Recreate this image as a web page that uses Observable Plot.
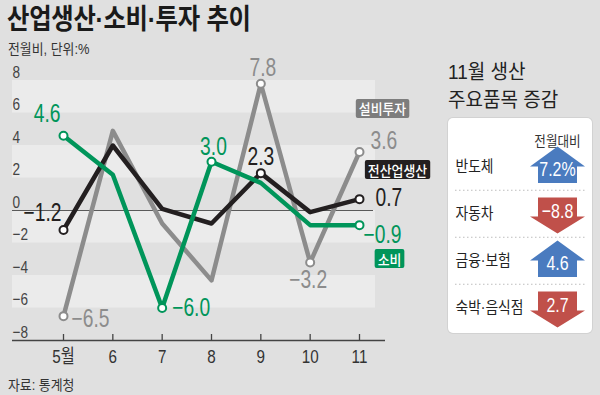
<!DOCTYPE html>
<html><head><meta charset="utf-8">
<script src="https://cdn.jsdelivr.net/npm/d3@7"></script>
<script src="https://cdn.jsdelivr.net/npm/@observablehq/plot@0.6"></script>
<style>
html,body{margin:0;padding:0;background:#e0e0e0;}
#wrap{position:relative;width:600px;height:395px;overflow:hidden;background:#e0e0e0;font-family:"Liberation Sans","Noto Sans CJK KR",sans-serif;color:#222;}
#main{position:absolute;left:0;top:0;}
#title{position:absolute;left:7px;top:0px;font-size:28px;font-weight:700;line-height:40px;letter-spacing:-0.3px;transform:scaleX(0.87);transform-origin:0 0;white-space:nowrap;color:#1a1a1a;}
#subtitle{position:absolute;left:8px;top:39px;font-size:14px;line-height:20px;color:#333;transform:scaleX(0.92);transform-origin:0 0;white-space:nowrap;}
#source{position:absolute;left:8px;top:375px;font-size:14px;line-height:20px;color:#333;transform:scaleX(0.92);transform-origin:0 0;white-space:nowrap;}
#ptitle{position:absolute;left:448px;top:58px;font-size:20px;line-height:28px;color:#222;transform:scaleX(0.95);transform-origin:0 0;white-space:nowrap;}
#panelbox{position:absolute;left:448px;top:118px;width:144px;height:215px;background:#fff;border-radius:5px;box-shadow:0 0 0 1px #d2d2d2;}
#panel{position:absolute;left:448px;top:118px;}
</style></head>
<body><div id="wrap">
<div id="main"></div>
<div id="title">산업생산·소비·투자 추이</div>
<div id="subtitle">전월비, 단위:%</div>
<div id="source">자료: 통계청</div>
<div id="ptitle">11월 생산<br>주요품목 증감</div>
<div id="panelbox"></div>
<div id="panel"></div>
</div>
<script>
// ---- data ----
const months = [5, 6, 7, 8, 9, 10, 11];
const monthLabels = ["5월", "6", "7", "8", "9", "10", "11"];
const seriesNames = ["설비투자", "전산업생산", "소비"];
const investment = [-6.5, 4.9, -0.8, -4.3, 7.8, -3.2, 3.6];
const production = [-1.2, 4.0, 0.1, -0.8, 2.3, -0.1, 0.7];
const consumption = [4.6, 2.2, -6.0, 3.0, 1.7, -0.9, -0.9];
const investmentLabeled = [5, 9, 10, 11];
const productionLabeled = [5, 9, 11];
const consumptionLabeled = [5, 7, 8, 11];
const yTicks = [-8, -6, -4, -2, 0, 2, 4, 6, 8];
const items = ["반도체", "자동차", "금융·보험", "숙박·음식점"];
const itemChanges = [7.2, -8.8, 4.6, -2.7];
const itemLabels = ["7.2%", "−8.8", "4.6", "2.7"];
const panelHeader = "전월대비";

// ---- styles / layout (not data) ----
const seriesColors = ["#8c8c8c", "#231f20", "#00955a"];
const tagColors = {"설비투자": "#7d7d7d", "전산업생산": "#231f20", "소비": "#00955a"};
const numFont = "'Liberation Sans',Arial,'Noto Sans CJK KR',sans-serif";
const krFont = "'Noto Sans CJK KR',sans-serif";
const labelLayout = {
  "설비투자|5": [8, 3, "start"], "설비투자|9": [2, -16, "middle"], "설비투자|10": [-2, 17, "middle"], "설비투자|11": [11, -11, "start"],
  "전산업생산|5": [-2, -17, "end"], "전산업생산|9": [0, -16, "middle"], "전산업생산|11": [16, -1, "start"],
  "소비|5": [-3, -22, "end"], "소비|7": [10, 0, "start"], "소비|8": [2, -15, "middle"], "소비|11": [4, 10, "start"]
};
const tagLayout = {"설비투자": [23, -42], "전산업생산": [38, -28], "소비": [30, 35]};

const valuesBySeries = [investment, production, consumption];
const labeledBySeries = [investmentLabeled, productionLabeled, consumptionLabeled];
const rows = seriesNames.flatMap((s, i) => months.map((m, j) => ({
  series: s, month: m, value: valuesBySeries[i][j], labeled: labeledBySeries[i].includes(m)
})));
const fmt1 = v => (v < 0 ? "−" : "") + Math.abs(v).toFixed(1);
const fmt0 = v => (v < 0 ? "−" : "") + Math.abs(v);
const step = yTicks[1] - yTicks[0];
const bands = yTicks.filter((t, i) => i % 2 === 1 && i < yTicks.length - 1).map(t => ({y1: t, y2: t + step}));
const lastRows = rows.filter(d => d.month === months[months.length - 1]);

const valueLabelMarks = rows.filter(d => d.labeled).map(d => {
  const [dx, dy, anchor] = labelLayout[d.series + "|" + d.month];
  return Plot.text([d], {x: "month", y: "value", text: r => fmt1(r.value), fill: "series",
    dx, dy, textAnchor: anchor, fontSize: 25});
});
const tagMarks = lastRows.map(d => {
  const [dx, dy] = tagLayout[d.series];
  return Plot.text([d], {x: "month", y: "value", text: "series", fill: "white", dx, dy,
    fontSize: 14, fontWeight: 500, fontFamily: krFont});
});

const chart = Plot.plot({
  width: 600, height: 395,
  marginTop: 80, marginBottom: 55, marginLeft: 12, marginRight: 215,
  x: {type: "linear", domain: [months[0], months[months.length - 1]], insetLeft: 51, insetRight: 26, axis: null},
  y: {domain: [yTicks[0], yTicks[yTicks.length - 1]], axis: null},
  color: {domain: seriesNames, range: seriesColors},
  style: {background: "transparent", overflow: "visible", fontFamily: numFont},
  marks: [
    Plot.rect(bands, {y1: "y1", y2: "y2", fill: "#ebebeb", insetRight: 10}),
    Plot.ruleY([0], {stroke: "#5a5a5a", strokeWidth: 1, insetRight: 12}),
    Plot.ruleY([yTicks[0]], {stroke: "#444", strokeWidth: 1.5}),
    Plot.ruleX(months, {x: d => d, y1: () => yTicks[0], y2: () => yTicks[0], insetTop: -6, stroke: "#444", strokeWidth: 1.3}),
    Plot.text(yTicks, {y: d => d, text: fmt0, frameAnchor: "left", textAnchor: "start", dy: -8, fontSize: 17, fill: "#444"}),
    Plot.text(months, {x: d => d, y: () => yTicks[0], text: (d, i) => monthLabels[i], dy: 16, fontSize: 19, fill: "#333"}),
    Plot.line(rows, {x: "month", y: "value", stroke: "series", z: "series", strokeWidth: 4.5}),
    Plot.dot(rows.filter(d => d.labeled), {x: "month", y: "value", r: 4, fill: "white", stroke: "series", strokeWidth: 2}),
    ...valueLabelMarks,
    ...tagMarks
  ]
});
document.getElementById("main").append(chart);

function condense(t, f) {
  const len = t.getComputedTextLength();
  if (!len) return;
  t.setAttribute("textLength", len * f);
  t.setAttribute("lengthAdjust", "spacingAndGlyphs");
}
chart.querySelectorAll("text").forEach(t => {
  const s = t.textContent;
  if (seriesNames.includes(s)) {
    condense(t, 0.92);
    const bb = t.getBBox();
    const r = document.createElementNS("http://www.w3.org/2000/svg", "rect");
    r.setAttribute("x", bb.x - 3); r.setAttribute("y", bb.y + 0.5);
    r.setAttribute("width", bb.width + 6); r.setAttribute("height", bb.height - 1);
    r.setAttribute("rx", 2);
    r.setAttribute("fill", tagColors[s]);
    const tr = t.getAttribute("transform"); if (tr) r.setAttribute("transform", tr);
    t.parentNode.insertBefore(r, t);
  } else if (s.length > 2 && s.includes(".")) {
    condense(t, 0.77);
  } else {
    condense(t, 0.8);
  }
});

// ---- panel ----
const itemRows = items.map((it, i) => ({item: it, change: itemChanges[i], label: itemLabels[i]}));
const S = 10;
const upArrow = {draw(ctx, size) { const k = Math.sqrt(size / Math.PI) / S;
  ctx.moveTo(0, -20 * k); ctx.lineTo(27.5 * k, 0); ctx.lineTo(19.5 * k, 0); ctx.lineTo(19.5 * k, 16.5 * k);
  ctx.lineTo(-19.5 * k, 16.5 * k); ctx.lineTo(-19.5 * k, 0); ctx.lineTo(-27.5 * k, 0); ctx.closePath(); }};
const downArrow = {draw(ctx, size) { const k = Math.sqrt(size / Math.PI) / S;
  ctx.moveTo(0, 20 * k); ctx.lineTo(27.5 * k, 3 * k); ctx.lineTo(19.5 * k, 3 * k); ctx.lineTo(19.5 * k, -16 * k);
  ctx.lineTo(-19.5 * k, -16 * k); ctx.lineTo(-19.5 * k, 3 * k); ctx.lineTo(-27.5 * k, 3 * k); ctx.closePath(); }};
const ups = itemRows.filter(d => d.change >= 0), downs = itemRows.filter(d => d.change < 0);
const bandStep = (215 - 23 - 2) / items.length;
const panel = Plot.plot({
  width: 144, height: 215, marginTop: 23, marginBottom: 2, marginLeft: 7, marginRight: 35,
  x: {type: "point", domain: ["name", "change"], padding: 0, axis: null},
  y: {type: "point", domain: items, padding: 0.5, axis: null},
  style: {background: "transparent", overflow: "visible", fontFamily: numFont},
  marks: [
    Plot.ruleY(items.slice(0, -1), {y: d => d, dy: bandStep / 2, stroke: "#bdbdbd", strokeDasharray: "1.5,2.5", insetRight: -28}),
    Plot.text([panelHeader], {x: () => "change", frameAnchor: "top", dy: -5, text: d => d, fontSize: 14, fill: "#333", fontFamily: krFont}),
    Plot.text(itemRows, {x: () => "name", y: "item", text: "item", textAnchor: "start", fontSize: 16, fill: "#222", fontFamily: numFont}),
    Plot.dot(ups, {x: () => "change", y: "item", symbol: upArrow, r: S, fill: "#4a7bbf", stroke: "none"}),
    Plot.dot(downs, {x: () => "change", y: "item", symbol: downArrow, r: S, fill: "#c0504a", stroke: "none"}),
    Plot.text(ups, {x: () => "change", y: "item", text: "label", dy: 3, fontSize: 21, fill: "white"}),
    Plot.text(downs, {x: () => "change", y: "item", text: "label", dy: -2, fontSize: 21, fill: "white"})
  ]
});
document.getElementById("panel").append(panel);
panel.querySelectorAll("text").forEach(t => {
  const s = t.textContent;
  if (items.includes(s)) condense(t, 0.86);
  else if (s === panelHeader) condense(t, 0.9);
  else condense(t, 0.76);
});
</script>
</body></html>
